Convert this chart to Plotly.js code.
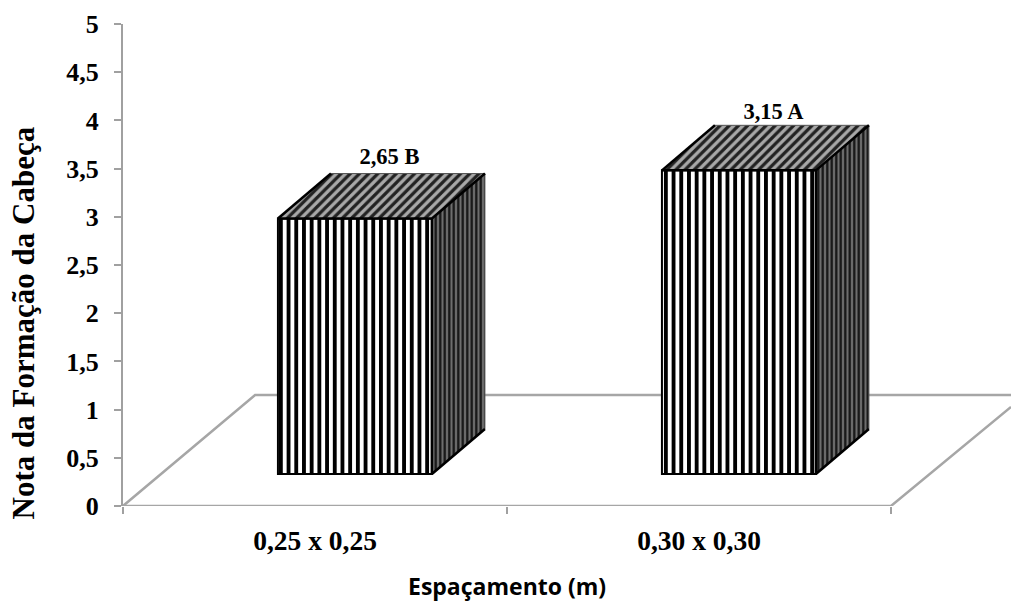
<!DOCTYPE html>
<html>
<head>
<meta charset="utf-8">
<script src="https://cdn.plot.ly/plotly-3.0.1.min.js"></script>
<style>html,body{margin:0;padding:0;background:#fff;overflow:hidden}</style>
</head>
<body>
<div id="chart" style="width:1011px;height:603px"></div>
<script>
// Spacing trial: head formation score per plant spacing
const categories = ['0,25 x 0,25', '0,30 x 0,30'];
const scores = [2.65, 3.15];
const scoreLabels = ['2,65 B', '3,15 A'];
const yTickValues = [0, 0.5, 1, 1.5, 2, 2.5, 3, 3.5, 4, 4.5, 5];
const yTickLabels = ['0', '0,5', '1', '1,5', '2', '2,5', '3', '3,5', '4', '4,5', '5'];

// Oblique projection of the box, in axis units
const catCentres = [0.5, 1.5];
const floorDepthX = 0.344, floorDepthY = 1.151;   // full depth of the floor
const barShiftX = 0.104, barBase = 0.332;         // front face position on the floor
const barDepthX = 0.138, barDepthY = 0.467;       // depth of each box
const barWidth = 0.401;
const xMax = 2.3125;                              // axis runs on to the page edge for the floor
const floorEndY = 1.027;                          // height of the right floor edge at the page edge
const labelLift = [0.16, 0.125];                  // gap between box top and its label
const FLOOR = '#a6a6a6', AXIS = '#a0a0a0';
const SERIF = '"Liberation Serif", serif';

const barX = catCentres.map(c => c + barShiftX);
const traces = [];

// Floor outline with the category baseline, beneath the boxes
traces.push({
  type: 'scatter', mode: 'lines', hoverinfo: 'skip', showlegend: false,
  x: [0, floorDepthX, xMax, null, xMax, 2, 0],
  y: [0, floorDepthY, floorDepthY, null, floorEndY, 0, 0],
  line: {color: FLOOR, width: 2.5}
});

// Front faces
traces.push({
  type: 'bar', xaxis: 'x2', yaxis: 'y2', showlegend: false,
  x: barX, y: scores, base: barBase, width: barWidth,
  marker: {
    color: '#fff',
    line: {color: '#000', width: 2},
    pattern: {shape: '|', fgcolor: '#000', bgcolor: '#fff', size: 7.7, solidity: 0.5}
  }
});

scores.forEach((v, i) => {
  const l = barX[i] - barWidth / 2, r = barX[i] + barWidth / 2;
  const b = barBase, t = barBase + v;
  // Side face
  traces.push({
    type: 'scatter', mode: 'lines', xaxis: 'x2', yaxis: 'y2', cliponaxis: false,
    hoverinfo: 'skip', showlegend: false, fill: 'toself',
    x: [r, r + barDepthX, r + barDepthX, r, r],
    y: [b, b + barDepthY, t + barDepthY, t, b],
    line: {color: '#555', width: 1},
    fillpattern: {shape: '|', fgcolor: '#141414', bgcolor: '#6e6e6e', size: 4.5, solidity: 0.5}
  });
  // Top face
  traces.push({
    type: 'scatter', mode: 'lines', xaxis: 'x2', yaxis: 'y2', cliponaxis: false,
    hoverinfo: 'skip', showlegend: false, fill: 'toself',
    x: [l, l + barDepthX, r + barDepthX, r, l],
    y: [t, t + barDepthY, t + barDepthY, t, t],
    line: {color: '#555', width: 1},
    fillpattern: {shape: '/', fgcolor: '#222', bgcolor: '#a8a8a8', size: 6.5, solidity: 0.5}
  });
  // Heavy outline of the visible edges
  traces.push({
    type: 'scatter', mode: 'lines', xaxis: 'x2', yaxis: 'y2', cliponaxis: false,
    hoverinfo: 'skip', showlegend: false,
    x: [l, l + barDepthX, null, l, r, r + barDepthX, null, r, r, r + barDepthX],
    y: [t, t + barDepthY, null, t, t, t + barDepthY, null, t, b, b + barDepthY],
    line: {color: '#000', width: 2.5}
  });
});

// Value labels above the boxes
traces.push({
  type: 'scatter', mode: 'text', xaxis: 'x2', yaxis: 'y2', cliponaxis: false,
  hoverinfo: 'skip', showlegend: false,
  x: barX.map(x => x + 0.09),
  y: scores.map((v, i) => v + barBase + barDepthY + labelLift[i]),
  text: scoreLabels, textposition: 'middle center',
  textfont: {family: SERIF, size: 22.5, color: '#000', weight: 'bold'}
});

const layout = {
  width: 1011, height: 603, autosize: false,
  margin: {l: 123, r: 0, t: 24, b: 97, pad: 0},
  paper_bgcolor: '#fff', plot_bgcolor: 'rgba(0,0,0,0)',
  showlegend: false, bargap: 0,
  xaxis: {
    range: [0, xMax], fixedrange: true, showgrid: false, zeroline: false,
    showline: false,
    tickvals: catCentres, ticktext: categories, ticks: '',
    tickfont: {family: SERIF, size: 27.5, color: '#000', weight: 'bold'},
    ticklabelstandoff: 15,
    minor: {tickvals: [0, 1, 2], ticks: 'outside', ticklen: 7, tickcolor: AXIS, tickwidth: 2, showgrid: false}
  },
  yaxis: {
    range: [0, 5], fixedrange: true, showgrid: false, zeroline: false,
    showline: true, linecolor: AXIS, linewidth: 2,
    tickvals: yTickValues, ticktext: yTickLabels,
    ticks: 'outside', ticklen: 7, tickcolor: AXIS, tickwidth: 2,
    tickfont: {family: SERIF, size: 26, color: '#000', weight: 'bold'},
    ticklabelstandoff: 10
  },
  xaxis2: {range: [0, xMax], overlaying: 'x', anchor: 'y2', visible: false, fixedrange: true},
  yaxis2: {range: [0, 5], overlaying: 'y', anchor: 'x2', visible: false, fixedrange: true},
  annotations: [{
    text: 'Nota da Formação da Cabeça', textangle: -90, showarrow: false,
    xref: 'paper', yref: 'paper', x: -0.112, y: 0.38, xanchor: 'center', yanchor: 'middle',
    font: {family: SERIF, size: 31, color: '#000', weight: 'bold'}
  }, {
    text: 'Espaçamento (m)', showarrow: false,
    xref: 'x', yref: 'paper', x: 1, y: -0.166, xanchor: 'center', yanchor: 'middle',
    font: {family: '"Open Sans", sans-serif', size: 23, color: '#000', weight: 'bold'}
  }]
};

Plotly.newPlot('chart', traces, layout, {displayModeBar: false, staticPlot: true});
</script>
</body>
</html>
